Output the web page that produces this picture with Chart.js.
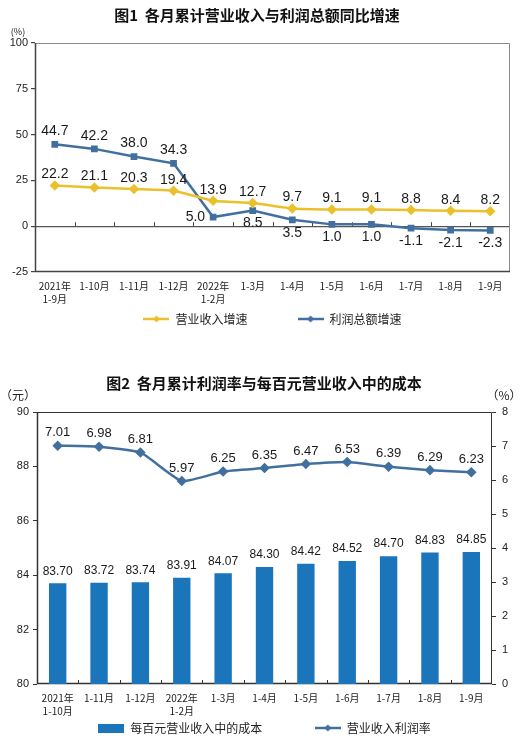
<!DOCTYPE html>
<html>
<head>
<meta charset="utf-8">
<script src="https://cdn.jsdelivr.net/npm/chart.js@4"></script>
<style>
  body { margin: 0; background: #fff; width: 528px; height: 740px; overflow: hidden; }
  .box { position: relative; width: 528px; }
</style>
</head>
<body>
<div class="box" style="height:350px"><canvas id="chart1"></canvas></div>
<div class="box" style="height:394px"><canvas id="chart2"></canvas></div>
<script>
// 图1 data
var months1 = [['2021年', '1-9月'], '1-10月', '1-11月', '1-12月', ['2022年', '1-2月'], '1-3月', '1-4月', '1-5月', '1-6月', '1-7月', '1-8月', '1-9月'];
var revenueGrowth = [22.2, 21.1, 20.3, 19.4, 13.9, 12.7, 9.7, 9.1, 9.1, 8.8, 8.4, 8.2];
var profitGrowth = [44.7, 42.2, 38.0, 34.3, 5.0, 8.5, 3.5, 1.0, 1.0, -1.1, -2.1, -2.3];
var profitLabelPos = ['above', 'above', 'above', 'above', 'left', 'below', 'below', 'below', 'below', 'below', 'below', 'below'];

// 图2 data
var months2 = [['2021年', '1-10月'], '1-11月', '1-12月', ['2022年', '1-2月'], '1-3月', '1-4月', '1-5月', '1-6月', '1-7月', '1-8月', '1-9月'];
var costPer100 = [83.70, 83.72, 83.74, 83.91, 84.07, 84.30, 84.42, 84.52, 84.70, 84.83, 84.85];
var profitRate = [7.01, 6.98, 6.81, 5.97, 6.25, 6.35, 6.47, 6.53, 6.39, 6.29, 6.23];

var YELLOW = '#EBC12B';
var BLUE_LINE = '#41709F';
var BLUE_BAR = '#1B75BB';
var NUM_FONT = 'Liberation Sans';
var CJK_FONT = 'Noto Sans CJK SC';

// little legend icons: line with a diamond, or a wide box
function lineIcon(color) {
  var c = document.createElement('canvas');
  c.width = 26; c.height = 10;
  var g = c.getContext('2d');
  g.strokeStyle = color; g.lineWidth = 2.5;
  g.beginPath(); g.moveTo(0, 5); g.lineTo(26, 5); g.stroke();
  g.fillStyle = color;
  g.beginPath(); g.moveTo(13, 1.5); g.lineTo(16.5, 5); g.lineTo(13, 8.5); g.lineTo(9.5, 5); g.closePath(); g.fill();
  return c;
}
function boxIcon(color) {
  var c = document.createElement('canvas');
  c.width = 26; c.height = 9;
  var g = c.getContext('2d');
  g.fillStyle = color; g.fillRect(0, 0, 26, 9);
  return c;
}

// value labels next to points / on top of bars
var valueLabels = {
  id: 'valueLabels',
  afterDatasetsDraw: function (chart) {
    var ctx = chart.ctx;
    chart.data.datasets.forEach(function (ds, i) {
      var opt = ds.valueLabels;
      if (!opt) return;
      var meta = chart.getDatasetMeta(i);
      ctx.save();
      ctx.font = opt.size + 'px "' + NUM_FONT + '"';
      ctx.fillStyle = '#1a1a1a';
      ctx.textBaseline = 'middle';
      meta.data.forEach(function (el, j) {
        var txt = ds.data[j].toFixed(opt.digits);
        var pos = Array.isArray(opt.pos) ? opt.pos[j] : opt.pos;
        if (pos === 'left') {
          ctx.textAlign = 'right';
          ctx.fillText(txt, el.x - 8, el.y);
        } else if (pos === 'below') {
          ctx.textAlign = 'center';
          ctx.fillText(txt, el.x, el.y + opt.dy);
        } else {
          ctx.textAlign = 'center';
          ctx.fillText(txt, el.x, el.y - opt.dy);
        }
      });
      ctx.restore();
    });
  }
};

// plot frame, category tick marks and unit captions
var frame = {
  id: 'frame',
  beforeDatasetsDraw: function (chart, args, o) {
    var a = chart.chartArea, ctx = chart.ctx, xs = chart.scales.x;
    ctx.save();
    ctx.lineWidth = 1;
    ctx.strokeStyle = o.edge;
    ctx.beginPath();
    ctx.moveTo(a.left, Math.round(a.top) + 0.5);
    ctx.lineTo(Math.round(a.right) - 0.5, Math.round(a.top) + 0.5);
    ctx.lineTo(Math.round(a.right) - 0.5, a.bottom);
    ctx.stroke();
    ctx.strokeStyle = o.axis;
    ctx.lineWidth = 1.5;
    ctx.beginPath();
    ctx.moveTo(Math.round(a.left) + 0.5, a.top);
    ctx.lineTo(Math.round(a.left) + 0.5, Math.round(a.bottom) - 0.5);
    ctx.lineTo(a.right, Math.round(a.bottom) - 0.5);
    ctx.stroke();
    var y0 = chart.scales[o.tickScale].getPixelForValue(o.tickAt);
    ctx.lineWidth = 1;
    ctx.beginPath();
    for (var i = 1; i < xs.ticks.length; i++) {
      var px = Math.round((xs.getPixelForTick(i - 1) + xs.getPixelForTick(i)) / 2) + 0.5;
      ctx.moveTo(px, y0);
      ctx.lineTo(px, y0 - 4);
    }
    ctx.stroke();
    ctx.restore();
  },
  afterDraw: function (chart, args, o) {
    var ctx = chart.ctx;
    ctx.save();
    ctx.fillStyle = '#222';
    ctx.textBaseline = 'middle';
    (o.units || []).forEach(function (u) {
      ctx.font = u.size + 'px "' + CJK_FONT + '"';
      ctx.textAlign = u.align;
      ctx.fillText(u.text, u.x, u.y);
    });
    ctx.restore();
  }
};

function legendLabels(icons) {
  return function (chart) {
    var items = Chart.defaults.plugins.legend.labels.generateLabels(chart);
    items.forEach(function (it, i) { it.pointStyle = icons[i]; });
    return items;
  };
}

var tickFont = { size: 11, family: NUM_FONT };
var catFont = { size: 10, family: CJK_FONT, lineHeight: 1.3 };

// 图1
new Chart(document.getElementById('chart1'), {
  type: 'line',
  data: {
    labels: months1,
    datasets: [{
      label: '营业收入增速\u3000\u3000\u3000\u3000',
      data: revenueGrowth,
      borderColor: YELLOW,
      backgroundColor: YELLOW,
      borderWidth: 2.5,
      pointStyle: 'rectRot',
      pointRadius: 3.5,
      tension: 0.15,
      valueLabels: { digits: 1, pos: 'above', dy: 11, size: 14 }
    }, {
      label: '利润总额增速',
      data: profitGrowth,
      borderColor: BLUE_LINE,
      backgroundColor: BLUE_LINE,
      borderWidth: 2.5,
      pointStyle: 'rect',
      pointRadius: 3,
      tension: 0,
      valueLabels: { digits: 1, pos: profitLabelPos, dy: 13, size: 14 }
    }]
  },
  options: {
    responsive: true,
    maintainAspectRatio: false,
    animation: false,
    layout: { padding: { left: 4, right: 18, top: 0, bottom: 15 } },
    scales: {
      x: {
        offset: true,
        grid: { display: false, drawTicks: false },
        border: { display: false },
        ticks: { color: '#222', font: catFont, maxRotation: 0, autoSkip: false, padding: 8 },
        afterFit: function (s) { s.height = 39; }
      },
      y: {
        min: -25, max: 100,
        border: { display: false },
        grid: {
          color: function (c) { return c.tick && c.tick.value === 0 ? '#555' : 'rgba(0,0,0,0)'; },
          lineWidth: 1.2,
          tickColor: '#444',
          tickLength: 4
        },
        ticks: { stepSize: 25, color: '#222', font: tickFont, padding: 3 },
        afterFit: function (s) { s.width = 31; }
      }
    },
    plugins: {
      title: {
        display: true,
        text: '图1  各月累计营业收入与利润总额同比增速',
        color: '#111',
        font: { size: 15, weight: 'bold', family: CJK_FONT, lineHeight: 1.2 },
        padding: { top: 6, bottom: 19 }
      },
      legend: {
        position: 'bottom',
        fullSize: false,
        labels: {
          usePointStyle: true,
          pointStyleWidth: 26,
          padding: 2,
          color: '#222',
          font: { size: 12, family: CJK_FONT },
          generateLabels: legendLabels([lineIcon(YELLOW), lineIcon(BLUE_LINE)])
        }
      },
      tooltip: { enabled: false },
      frame: {
        edge: '#8a8a8a', axis: '#444', tickScale: 'y', tickAt: 0,
        units: [{ text: '(%)', x: 18, y: 32, size: 9, align: 'center' }]
      }
    }
  },
  plugins: [frame, valueLabels]
});

// 图2
new Chart(document.getElementById('chart2'), {
  type: 'bar',
  data: {
    labels: months2,
    datasets: [{
      type: 'bar',
      label: '每百元营业收入中的成本\u3000\u3000\u3000\u3000 ',
      data: costPer100,
      yAxisID: 'y',
      backgroundColor: BLUE_BAR,
      barPercentage: 0.42,
      categoryPercentage: 1,
      valueLabels: { digits: 2, pos: 'above', dy: 12, size: 12 }
    }, {
      type: 'line',
      label: '营业收入利润率',
      data: profitRate,
      yAxisID: 'y1',
      borderColor: BLUE_LINE,
      backgroundColor: BLUE_LINE,
      borderWidth: 2.5,
      pointStyle: 'rectRot',
      pointRadius: 3.5,
      tension: 0.15,
      valueLabels: { digits: 2, pos: 'above', dy: 13, size: 13 }
    }]
  },
  options: {
    responsive: true,
    maintainAspectRatio: false,
    animation: false,
    layout: { padding: { left: 4, right: 4, top: 0, bottom: 0 } },
    scales: {
      x: {
        grid: { display: false, drawTicks: false },
        border: { display: false },
        ticks: { color: '#222', font: catFont, maxRotation: 0, autoSkip: false, padding: 8 },
        afterFit: function (s) { s.height = 36; }
      },
      y: {
        position: 'left',
        min: 80, max: 90,
        border: { display: false },
        grid: { drawOnChartArea: false, tickColor: '#333', tickLength: 4 },
        ticks: { stepSize: 2, color: '#222', font: tickFont, padding: 4 },
        afterFit: function (s) { s.width = 33; }
      },
      y1: {
        position: 'right',
        min: 0, max: 8,
        border: { display: false },
        grid: { drawOnChartArea: false, tickColor: '#333', tickLength: 4 },
        ticks: { stepSize: 1, color: '#222', font: tickFont, padding: 6 },
        afterFit: function (s) { s.width = 32; }
      }
    },
    plugins: {
      title: {
        display: true,
        text: '图2  各月累计利润率与每百元营业收入中的成本',
        color: '#111',
        font: { size: 15, weight: 'bold', family: CJK_FONT, lineHeight: 1.2 },
        padding: { top: 24, bottom: 20 }
      },
      legend: {
        position: 'bottom',
        fullSize: false,
        labels: {
          usePointStyle: true,
          pointStyleWidth: 26,
          padding: 2,
          color: '#222',
          font: { size: 12, family: CJK_FONT },
          generateLabels: legendLabels([boxIcon(BLUE_BAR), lineIcon(BLUE_LINE)])
        }
      },
      tooltip: { enabled: false },
      frame: {
        edge: '#333', axis: '#333', tickScale: 'y', tickAt: 80,
        units: [
          { text: '（元）', x: 18, y: 45, size: 12, align: 'center' },
          { text: '（%）', x: 504, y: 45, size: 12, align: 'center' }
        ]
      }
    }
  },
  plugins: [frame, valueLabels]
});
</script>
</body>
</html>
